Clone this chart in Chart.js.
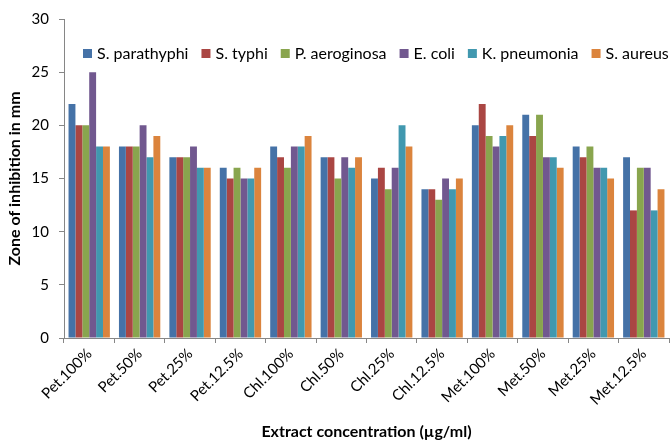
<!DOCTYPE html>
<html>
<head>
<meta charset="utf-8">
<script src="https://cdn.jsdelivr.net/npm/chart.js@4.4.0/dist/chart.umd.min.js"></script>
<style>
  html, body { margin: 0; padding: 0; background: #fff; }
  #wrap { width: 672px; height: 443px; position: relative; }
</style>
</head>
<body>
<div id="wrap"><canvas id="zoneChart"></canvas></div>
<script>
// Chart data
const categories = ['Pet.100%', 'Pet.50%', 'Pet.25%', 'Pet.12.5%', 'Chl.100%', 'Chl.50%',
  'Chl.25%', 'Chl.12.5%', 'Met.100%', 'Met.50%', 'Met.25%', 'Met.12.5%'];

const sParathyphi = [22, 18, 17, 16, 18, 17, 15, 14, 20, 21, 18, 17];
const sTyphi      = [20, 18, 17, 15, 17, 17, 16, 14, 22, 19, 17, 12];
const pAeroginosa = [20, 18, 17, 16, 16, 15, 14, 13, 19, 21, 18, 16];
const eColi       = [25, 20, 18, 15, 18, 17, 16, 15, 18, 17, 16, 16];
const kPneumonia  = [18, 17, 16, 15, 18, 16, 20, 14, 19, 17, 16, 12];
const sAureus     = [18, 19, 16, 16, 19, 17, 18, 15, 20, 16, 15, 14];

const yTicks = [0, 5, 10, 15, 20, 25, 30];

const seriesNames = ['S. parathyphi', 'S. typhi', 'P. aeroginosa', 'E. coli', 'K. pneumonia', 'S. aureus'];
const seriesData = [sParathyphi, sTyphi, pAeroginosa, eColi, kPneumonia, sAureus];
const seriesColors = ['#4572A7', '#AA4643', '#89A54E', '#71588F', '#4198AF', '#DB843D'];

const FONT = 'Lato, "Liberation Sans", sans-serif';
const axisColor = '#868686';

// Legend sits inside the plot area, in one row (like the Excel original)
const insideLegend = {
  id: 'insideLegend',
  afterDraw(chart) {
    const ctx = chart.ctx;
    const area = chart.chartArea;
    let x = area.left + 19;
    const y = area.top + 35;
    ctx.save();
    ctx.font = '16px ' + FONT;
    ctx.textBaseline = 'middle';
    chart.data.datasets.forEach(ds => {
      ctx.fillStyle = ds.backgroundColor;
      ctx.fillRect(x, y - 5, 9, 9);
      x += 14;
      ctx.fillStyle = '#000';
      ctx.fillText(ds.label, x, y);
      x += ctx.measureText(ds.label).width + 13;
    });
    ctx.restore();
  }
};

const zoneChart = new Chart(document.getElementById('zoneChart'), {
  type: 'bar',
  data: {
    labels: categories,
    datasets: seriesNames.map((name, i) => ({
      label: name,
      data: seriesData[i],
      backgroundColor: seriesColors[i],
      borderWidth: 0,
      categoryPercentage: 0.82,
      barPercentage: 1.0
    }))
  },
  plugins: [insideLegend],
  options: {
    responsive: true,
    maintainAspectRatio: false,
    animation: false,
    layout: {
      padding: { left: 0, right: 3, top: 19, bottom: 2 }
    },
    plugins: {
      legend: { display: false },
      tooltip: { enabled: false }
    },
    scales: {
      x: {
        grid: {
          drawOnChartArea: false,
          drawTicks: true,
          tickLength: 5,
          tickColor: axisColor
        },
        border: { color: axisColor },
        ticks: {
          font: { family: FONT, size: 15 },
          color: '#000',
          maxRotation: 45,
          minRotation: 45,
          padding: 2,
          autoSkip: false
        },
        title: {
          display: true,
          text: 'Extract concentration (µg/ml)',
          font: { family: FONT, size: 16, weight: 'bold' },
          color: '#000',
          padding: { top: 0, bottom: 0 }
        },
        afterFit: (scale) => { scale.height = 103; }
      },
      y: {
        min: 0,
        max: 30,
        afterBuildTicks: (scale) => { scale.ticks = yTicks.map(v => ({ value: v })); },
        grid: {
          drawOnChartArea: false,
          drawTicks: true,
          tickLength: 5,
          tickColor: axisColor
        },
        border: { color: axisColor },
        ticks: {
          font: { family: FONT, size: 15 },
          color: '#000',
          padding: 10
        },
        title: {
          display: true,
          text: 'Zone of inhibition in mm',
          font: { family: FONT, size: 16, weight: 'bold' },
          color: '#000',
          padding: { top: 5, bottom: 0 }
        },
        afterFit: (scale) => { scale.width = 64; }
      }
    }
  }
});
</script>
</body>
</html>
